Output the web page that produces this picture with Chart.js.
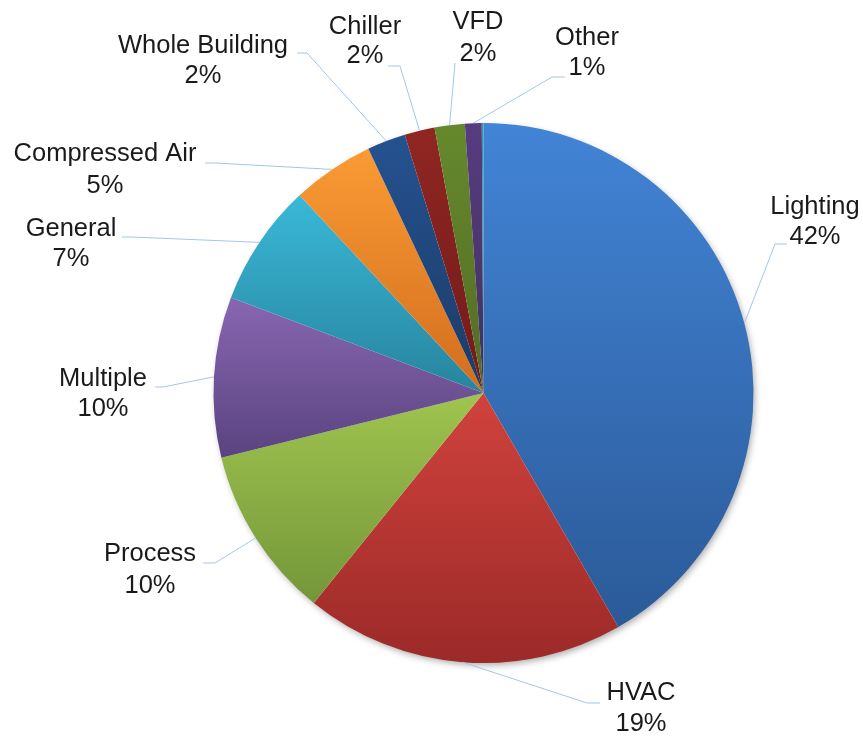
<!DOCTYPE html>
<html>
<head>
<meta charset="utf-8">
<script src="https://cdn.jsdelivr.net/npm/chart.js@4.4.1/dist/chart.umd.min.js"></script>
<style>
  body { margin: 0; background: #fff; }
  #wrap { width: 863px; height: 738px; }
</style>
</head>
<body>
<div id="wrap"><canvas id="myChart" width="863" height="738"></canvas></div>
<script>
// slices, clockwise from 12 o'clock (the last one is the unlabelled sliver)
const categories = ['Lighting', 'HVAC', 'Process', 'Multiple', 'General', 'Compressed Air',
                    'Whole Building', 'Chiller', 'VFD', 'Other', '']
const shares = [41.6, 19.1, 10.3, 9.6, 7.3, 4.9, 2.3, 1.8, 1.8, 1.0, 0.1]

const topColors = ['#4284d6', '#d1423d', '#9fc44e', '#8867b1', '#3ab8d8', '#fa9b34',
                   '#255290', '#902621', '#66892d', '#573c80', '#2e9ab0']
const bottomColors = ['#2b5a98', '#9b2a28', '#74963a', '#5a4380', '#27849e', '#d26d1e',
                      '#1b3b66', '#711b1b', '#526c23', '#41305e', '#257e90']

// label boxes relative to the pie centre: text x, line 1 y, line 2 y, attach x/y, elbow x
const labelSpots = [
  [331.5, -186, -156, 303.5, -149, 291.5],
  [157.5, 300, 331, 116.5, 310, 103.5],
  [-333.5, 161, 193, -280.5, 170, -268.5],
  [-380.5, -14, 16, -328.5, -6, -320.5],
  [-412.5, -164, -134, -361.5, -156, -351.5],
  [-378.5, -239, -207, -278.5, -230, -268.5],
  [-280.5, -347, -317, -186.5, -340, -176.5],
  [-118.5, -366, -337, -95.5, -327, -83.5],
  [-5.5, -371, -339, -28.5, -330, -28.5],
  [103.5, -355, -325, 81.5, -316, 68.5]
]

// vertical gradient over each slice's own height
function sliceFill(context) {
    const i = context.dataIndex
    const chart = context.chart
    const area = chart.chartArea
    if (!area) return topColors[i]
    const cx = (area.left + area.right) / 2
    const cy = (area.top + area.bottom) / 2
    const r = Math.min(area.right - area.left, area.bottom - area.top) / 2
    const total = shares.reduce((a, b) => a + b, 0)
    let before = 0
    for (let k = 0; k < i; k++) before += shares[k]
    const a0 = -Math.PI / 2 + 2 * Math.PI * before / total
    const a1 = a0 + 2 * Math.PI * shares[i] / total
    const ys = [cy, cy + r * Math.sin(a0), cy + r * Math.sin(a1)]
    const inRange = a => (a0 <= a && a <= a1) || (a0 <= a + 2 * Math.PI && a + 2 * Math.PI <= a1)
    if (inRange(Math.PI / 2)) ys.push(cy + r)
    if (inRange(-Math.PI / 2)) ys.push(cy - r)
    const y0 = Math.min(...ys), y1 = Math.max(...ys)
    const g = chart.ctx.createLinearGradient(0, y0, 0, Math.max(y1, y0 + 1))
    g.addColorStop(0, topColors[i])
    g.addColorStop(1, bottomColors[i])
    return g
}

const pieShadow = {
    id: 'pieShadow',
    beforeDatasetsDraw(chart) {
        const arc = chart.getDatasetMeta(0).data[0]
        if (!arc) return
        const p = arc.getProps(['x', 'y', 'outerRadius'], true)
        const ctx = chart.ctx
        ctx.save()
        ctx.shadowColor = 'rgba(0,0,0,0.35)'
        ctx.shadowBlur = 7
        ctx.shadowOffsetX = 2
        ctx.shadowOffsetY = 3
        ctx.fillStyle = '#ffffff'
        ctx.beginPath()
        ctx.arc(p.x, p.y, p.outerRadius - 1, 0, Math.PI * 2)
        ctx.fill()
        ctx.restore()
    }
}

const outsideLabels = {
    id: 'outsideLabels',
    afterDatasetsDraw(chart) {
        const ctx = chart.ctx
        const meta = chart.getDatasetMeta(0)
        const total = shares.reduce((a, b) => a + b, 0)
        ctx.save()
        meta.data.forEach((arc, i) => {
            if (!categories[i] || !labelSpots[i]) return
            const p = arc.getProps(['x', 'y', 'startAngle', 'endAngle', 'outerRadius'], true)
            const mid = (p.startAngle + p.endAngle) / 2
            const ex = p.x + Math.cos(mid) * p.outerRadius
            const ey = p.y + Math.sin(mid) * p.outerRadius
            const s = labelSpots[i]

            ctx.strokeStyle = '#a4c6ea'
            ctx.lineWidth = 1
            ctx.beginPath()
            ctx.moveTo(ex, ey)
            ctx.lineTo(p.x + s[5], p.y + s[4])
            ctx.lineTo(p.x + s[3], p.y + s[4])
            ctx.stroke()

            ctx.fillStyle = '#1a1a1a'
            ctx.font = '25.5px "Liberation Sans", Arial, sans-serif'
            ctx.textAlign = 'center'
            ctx.textBaseline = 'middle'
            ctx.fillText(categories[i], p.x + s[0], p.y + s[1])
            ctx.fillText(Math.round(shares[i] / total * 100) + '%', p.x + s[0], p.y + s[2])
        })
        ctx.restore()
    }
}

var ctx = document.getElementById('myChart').getContext('2d')
const myChart = new Chart(ctx, {
    type: 'pie',
    data: {
        labels: categories,
        datasets: [{
            data: shares,
            backgroundColor: sliceFill,
            borderWidth: 0,
            hoverOffset: 0
        }]
    },
    options: {
        responsive: false,
        animation: false,
        events: [],
        layout: {
            padding: { left: 213.5, right: 109.5, top: 123, bottom: 75 }
        },
        plugins: {
            legend: { display: false },
            tooltip: { enabled: false }
        }
    },
    plugins: [pieShadow, outsideLabels]
})
</script>
</body>
</html>
